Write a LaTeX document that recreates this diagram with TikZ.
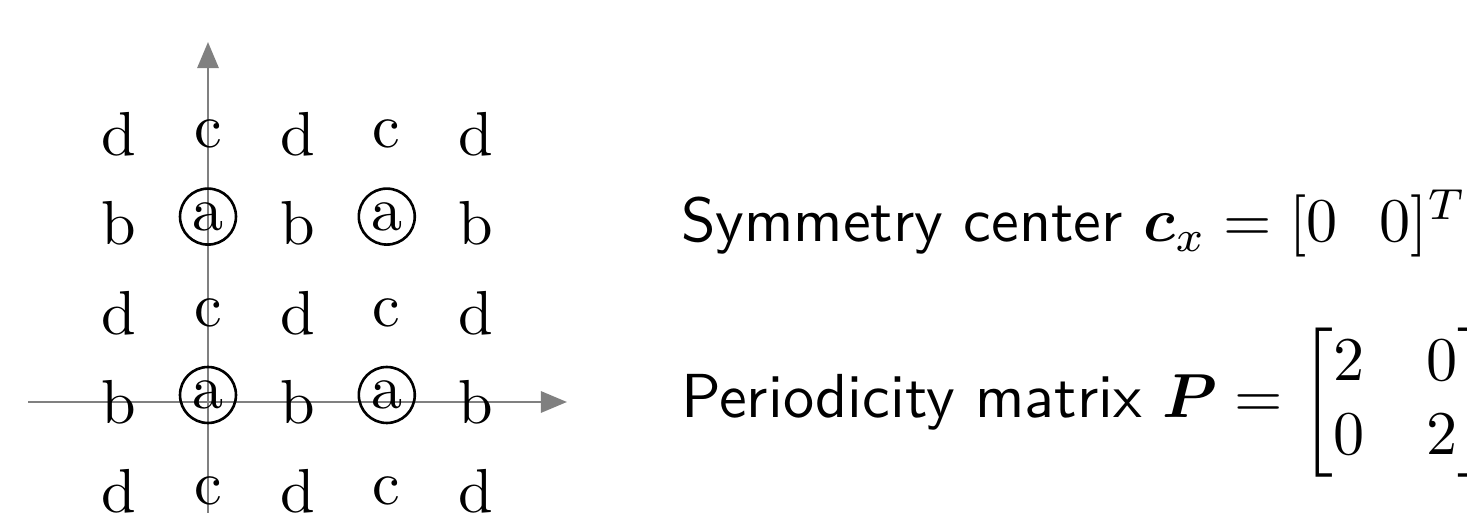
\documentclass[tikz,border=0pt]{standalone}
\usepackage{amsmath}
\usetikzlibrary{arrows.meta}
\tikzset{
  lbl/.style={font=\fontsize{10}{12}\selectfont, inner sep=0pt},
  ring/.style={lbl, draw, circle, line width=0.42pt, minimum size=9pt},
  axisline/.style={draw=gray, line width=0.45pt, -{Triangle[length=4.2pt,width=3.4pt]}},
  txt/.style={font=\fontsize{10}{12}\selectfont, inner sep=0pt, anchor=base west},
}
\begin{document}
\begin{tikzpicture}[x=0.1608pt, y=-0.1608pt]
\useasboundingbox (0,0) rectangle (1467,513);
% axes
\coordinate (xs) at (28,402);
\coordinate (xe) at (567,402);
\coordinate (ys) at (208,540);
\coordinate (ye) at (208,42);
\draw[axisline] (xs) -- (xe);
\draw[axisline] (ys) -- (ye);
% grid of letters
\foreach \r in {1,3,5} {
  \foreach \k/\t in {1/d,2/c,3/d,4/c,5/d} {
    \node[lbl] (g\r\k) at ({208+(\k-2)*89.4},{402+(\r-4)*89.2}) {\t};
  }
}
\foreach \r in {2,4} {
  \foreach \k/\t in {1/b,3/b,5/b} {
    \node[lbl] (g\r\k) at ({208+(\k-2)*89.4},{402+(\r-4)*89.2}) {\t};
  }
  \foreach \k in {2,4} {
    \node[ring] (g\r\k) at ({208+(\k-2)*89.4},{402+(\r-4)*89.2-7}) {a};
  }
}
% text
\node[txt] (sym) at (680,242) {\sffamily Symmetry center $\boldsymbol{c}_x = [0\ \ 0]^T$};
\node[txt] (per) at (680,418) {\sffamily Periodicity matrix $\boldsymbol{P} = \begin{bmatrix}2 & 0\\ 0 & 2\end{bmatrix}$};
\end{tikzpicture}
\end{document}
